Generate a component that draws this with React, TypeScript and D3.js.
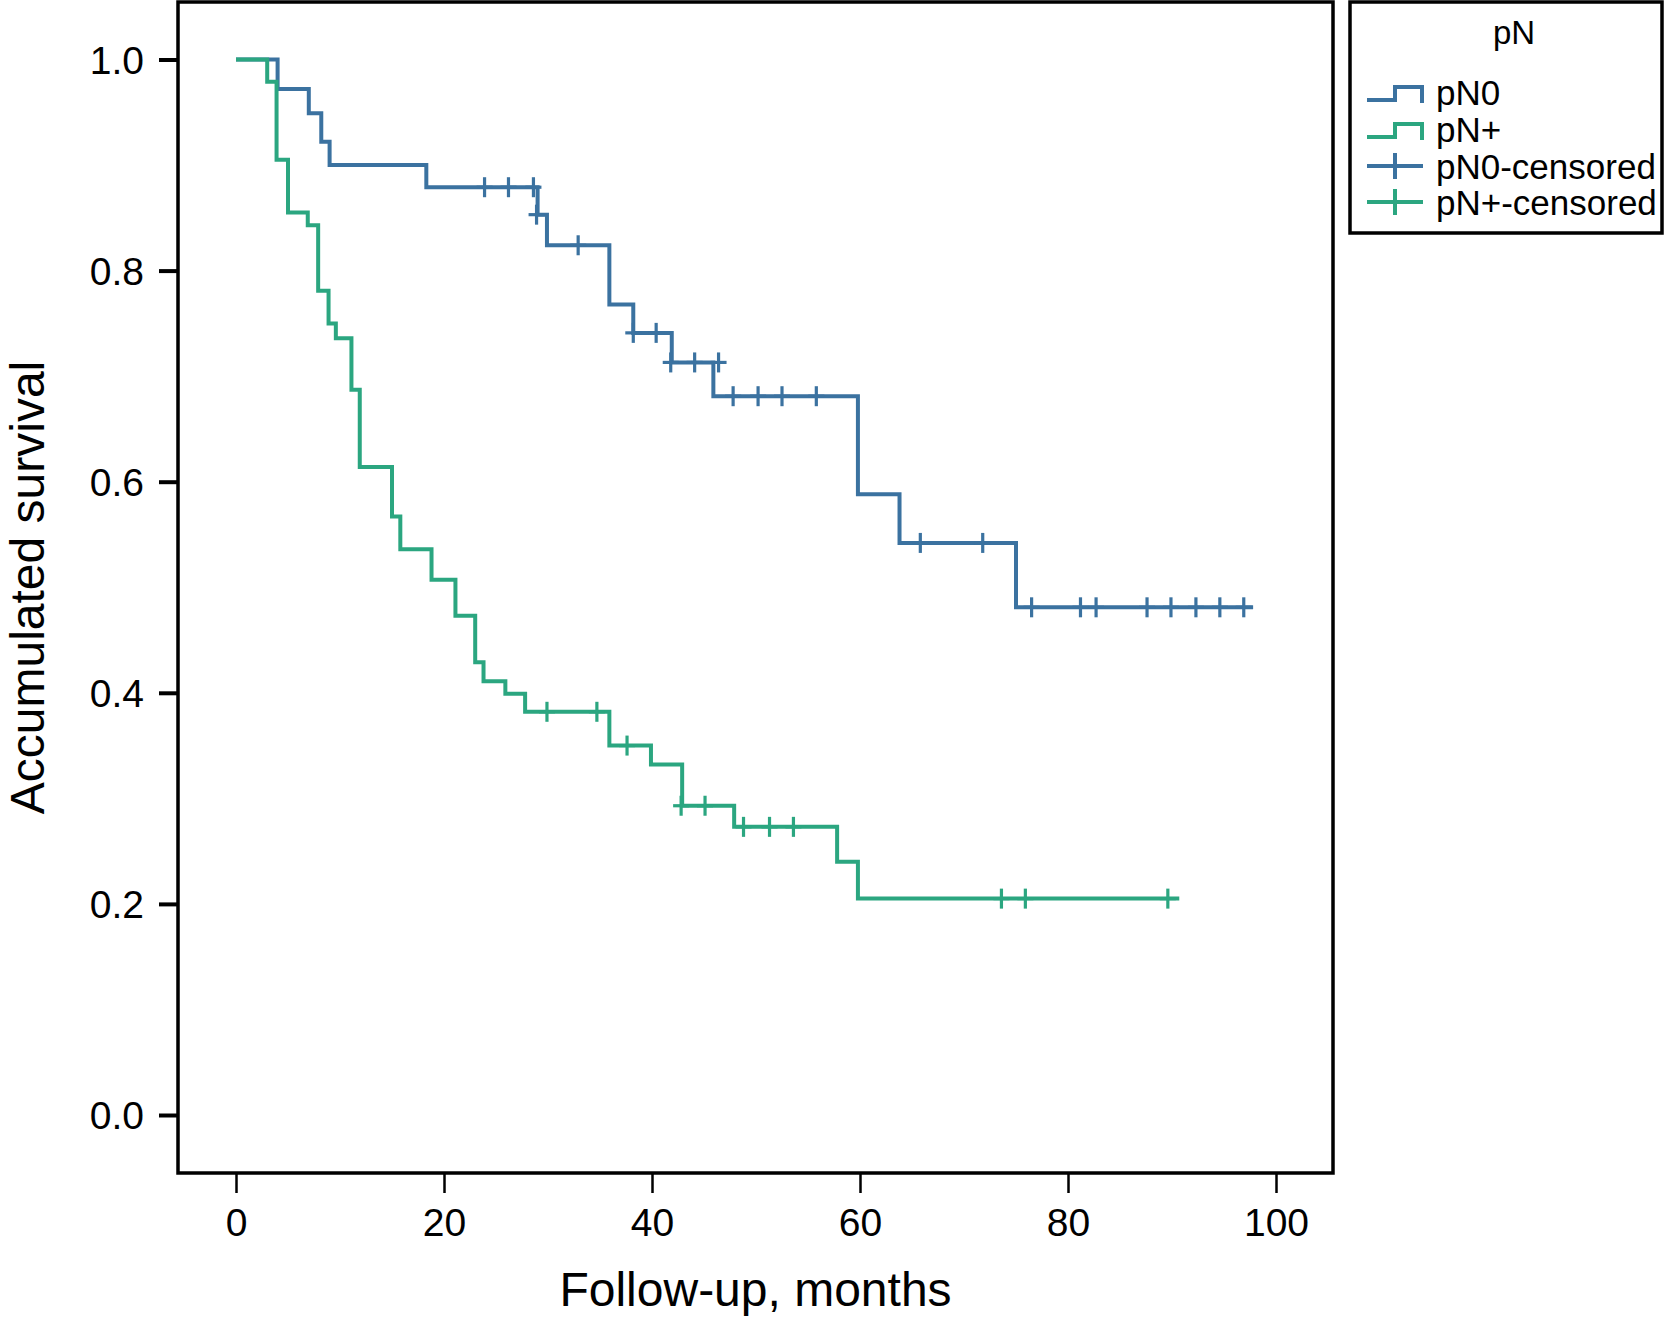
import React, { useEffect, useRef } from "react";
import * as d3 from "d3";

// pN0 step curve: times where survival drops, and survival after each drop
const pN0Times = [0, 4.0, 7.0, 8.2, 9.0, 18.3, 29.0, 29.9, 35.9, 38.2, 41.9, 45.9, 59.8, 63.8, 75.0];
const pN0Surv = [1.0, 0.972, 0.949, 0.922, 0.9, 0.879, 0.853, 0.824, 0.768, 0.741, 0.713, 0.681, 0.588, 0.542, 0.481];
const pN0End = 97.8;
const pN0Censored: [number, number][] = [
  [23.9, 0.879], [26.2, 0.879], [28.6, 0.879], [28.9, 0.853], [32.9, 0.824],
  [38.2, 0.741], [40.4, 0.741], [41.8, 0.713], [44.1, 0.713], [46.4, 0.713],
  [47.8, 0.681], [50.2, 0.681], [52.5, 0.681], [55.8, 0.681], [65.8, 0.542],
  [71.8, 0.542], [76.5, 0.481], [81.2, 0.481], [82.7, 0.481], [87.6, 0.481],
  [89.9, 0.481], [92.3, 0.481], [94.6, 0.481], [96.9, 0.481],
];

// pN+ step curve
const pNpTimes = [0, 3.0, 3.9, 5.0, 6.9, 7.9, 8.9, 9.6, 11.1, 11.9, 15.0, 15.8, 18.8, 21.1, 23.0, 23.8, 25.9, 27.8, 35.9, 39.9, 42.9, 47.9, 57.8, 59.8];
const pNpSurv = [1.0, 0.979, 0.905, 0.855, 0.843, 0.781, 0.75, 0.736, 0.687, 0.614, 0.567, 0.536, 0.507, 0.473, 0.429, 0.411, 0.399, 0.382, 0.35, 0.332, 0.293, 0.273, 0.24, 0.205];
const pNpEnd = 90.7;
const pNpCensored: [number, number][] = [
  [29.9, 0.382], [34.7, 0.382], [37.6, 0.35], [42.8, 0.293], [45.1, 0.293],
  [48.8, 0.273], [51.3, 0.273], [53.6, 0.273], [73.6, 0.205], [75.9, 0.205],
  [89.6, 0.205],
];

const xTicks = [0, 20, 40, 60, 80, 100];
const yTicks = [0, 0.2, 0.4, 0.6, 0.8, 1.0];
const legendTitle = "pN";
const legendLabels = ["pN0", "pN+", "pN0-censored", "pN+-censored"];

const BLUE = "#3b72a0";
const GREEN = "#2ba680";
const FONT = "'Liberation Sans', Arial, Helvetica, sans-serif";

export default function App() {
  const svgRef = useRef<SVGSVGElement>(null);

  useEffect(() => {
    if (!svgRef.current) return;
    const svg = d3.select(svgRef.current);
    svg.selectAll("*").remove();

    const frame = { left: 178, right: 1333, top: 2, bottom: 1173 };

    const x = d3.scaleLinear().domain([0, 100]).range([236, 1276]);
    const y = d3.scaleLinear().domain([0, 1]).range([1115, 59.5]);

    svg.append("rect").attr("width", 1665).attr("height", 1318).attr("fill", "#fff");

    // frame
    svg
      .append("rect")
      .attr("x", frame.left)
      .attr("y", frame.top)
      .attr("width", frame.right - frame.left)
      .attr("height", frame.bottom - frame.top)
      .attr("fill", "none")
      .attr("stroke", "#000")
      .attr("stroke-width", 3.5);

    // y axis
    const gy = svg
      .append("g")
      .attr("transform", `translate(${frame.left},0)`)
      .call(
        d3
          .axisLeft(y)
          .tickValues(yTicks)
          .tickSize(19)
          .tickPadding(15)
          .tickFormat(d3.format(".1f") as any)
      );
    gy.select(".domain").remove();
    gy.selectAll("line").attr("stroke", "#000").attr("stroke-width", 4);
    gy.selectAll("text")
      .attr("dy", "0.35em")
      .style("font-family", FONT)
      .style("font-size", "39px")
      .attr("fill", "#000");

    // x axis
    const gx = svg
      .append("g")
      .attr("transform", `translate(0,${frame.bottom})`)
      .call(d3.axisBottom(x).tickValues(xTicks).tickSize(20).tickPadding(15));
    gx.select(".domain").remove();
    gx.selectAll("line").attr("stroke", "#000").attr("stroke-width", 2.5);
    gx.selectAll("text")
      .style("font-family", FONT)
      .style("font-size", "39px")
      .attr("fill", "#000");

    // axis titles
    svg
      .append("text")
      .attr("x", (frame.left + frame.right) / 2)
      .attr("y", 1306)
      .attr("text-anchor", "middle")
      .style("font-family", FONT)
      .style("font-size", "48px")
      .text("Follow-up, months");

    svg
      .append("text")
      .attr("transform", `translate(44,${(frame.top + frame.bottom) / 2}) rotate(-90)`)
      .attr("text-anchor", "middle")
      .style("font-family", FONT)
      .style("font-size", "48px")
      .text("Accumulated survival");

    const line = d3
      .line<[number, number]>()
      .x((d) => x(d[0]))
      .y((d) => y(d[1]))
      .curve(d3.curveStepAfter);

    const series = [
      { times: pN0Times, surv: pN0Surv, end: pN0End, cens: pN0Censored, color: BLUE },
      { times: pNpTimes, surv: pNpSurv, end: pNpEnd, cens: pNpCensored, color: GREEN },
    ];

    series.forEach((s) => {
      const pts: [number, number][] = s.times.map((t, i) => [t, s.surv[i]]);
      pts.push([s.end, s.surv[s.surv.length - 1]]);
      svg
        .append("path")
        .datum(pts)
        .attr("fill", "none")
        .attr("stroke", s.color)
        .attr("stroke-width", 4)
        .attr("d", line);

      const g = svg.append("g").attr("stroke", s.color).attr("stroke-width", 3.2);
      s.cens.forEach(([t, v]) => {
        g.append("line")
          .attr("x1", x(t) - 8)
          .attr("x2", x(t) + 8)
          .attr("y1", y(v))
          .attr("y2", y(v));
        g.append("line")
          .attr("x1", x(t))
          .attr("x2", x(t))
          .attr("y1", y(v) - 10)
          .attr("y2", y(v) + 10);
      });
    });

    // legend
    const lg = svg.append("g");
    lg.append("rect")
      .attr("x", 1350)
      .attr("y", 2)
      .attr("width", 312)
      .attr("height", 231)
      .attr("fill", "#fff")
      .attr("stroke", "#000")
      .attr("stroke-width", 3.5);
    lg.append("text")
      .attr("x", 1514)
      .attr("y", 44)
      .attr("text-anchor", "middle")
      .style("font-family", FONT)
      .style("font-size", "33px")
      .text(legendTitle);

    const rowBase = [105, 142, 179, 215];
    const colors = [BLUE, GREEN, BLUE, GREEN];
    legendLabels.forEach((label, i) => {
      const b = rowBase[i];
      if (i < 2) {
        lg.append("path")
          .attr("d", `M1367,${b - 5}H1395V${b - 18}H1422V${b - 2}`)
          .attr("fill", "none")
          .attr("stroke", colors[i])
          .attr("stroke-width", 4);
      } else {
        lg.append("line")
          .attr("x1", 1367)
          .attr("x2", 1423)
          .attr("y1", b - 13)
          .attr("y2", b - 13)
          .attr("stroke", colors[i])
          .attr("stroke-width", 4);
        lg.append("line")
          .attr("x1", 1395)
          .attr("x2", 1395)
          .attr("y1", b - 26)
          .attr("y2", b)
          .attr("stroke", colors[i])
          .attr("stroke-width", 4);
      }
      lg.append("text")
        .attr("x", 1436)
        .attr("y", b)
        .style("font-family", FONT)
        .style("font-size", "35px")
        .text(label);
    });
  }, []);

  return (
    <svg
      ref={svgRef}
      width={1665}
      height={1318}
      style={{ position: "absolute", left: 0, top: 0, display: "block" }}
    />
  );
}
